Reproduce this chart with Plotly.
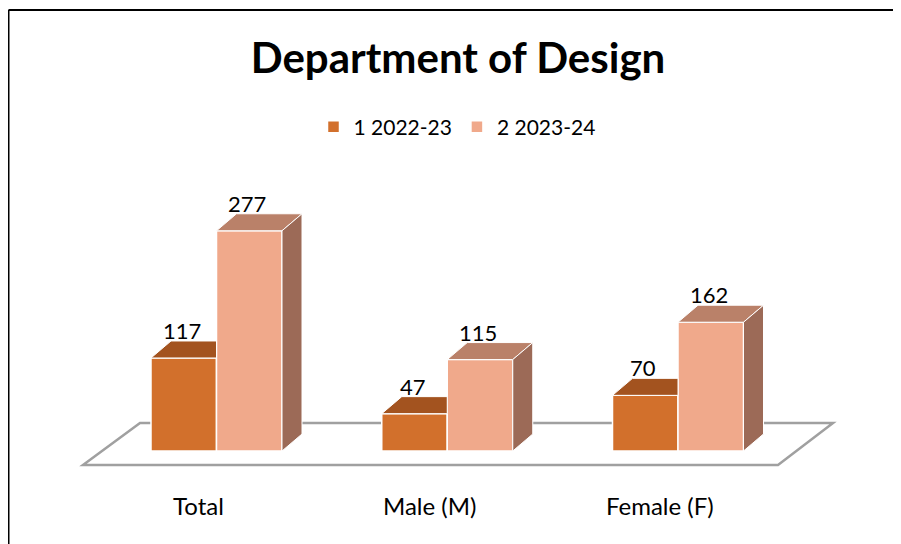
import plotly.graph_objects as go

# ---------------- data ----------------
categories = ["Total", "Male (M)", "Female (F)"]
series_names = ["1 2022-23", "2 2023-24"]
values_2022_23 = [117, 47, 70]
values_2023_24 = [277, 115, 162]

# ---------------- style / geometry ----------------
FRONT = ["#D2702C", "#F0A98B"]
TOP = ["#A3531F", "#BA8169"]
SIDE = ["#8E4A1C", "#9C6A57"]
FONT = "Lato"

PAGE_W, PAGE_H = 901, 544
OFF = 8                    # default body margin of the html page
W, H = PAGE_W - OFF, PAGE_H - OFF
UNIT_PX = 230.75           # pixels per category
FIRST_CX = 216.5           # page pixel centre of first category
BASE_PX = 451.0            # page pixel of value 0
PX_PER_VAL = 0.795         # pixels per value unit

X0 = (OFF - FIRST_CX) / UNIT_PX
X1 = X0 + W / UNIT_PX
Y1 = (BASE_PX - OFF) / PX_PER_VAL
Y0 = (BASE_PX - PAGE_H) / PX_PER_VAL

GROUP_W = 131 / UNIT_PX
BARGAP = 1 - GROUP_W
BAR_W = GROUP_W / 2
DX = 20 / UNIT_PX
DY = 17 / PX_PER_VAL


def px_x(p):
    return (p - FIRST_CX) / UNIT_PX


def px_y(p):
    return (BASE_PX - p) / PX_PER_VAL


def paper_x(p):
    return (p - OFF) / W


def paper_y(p):
    return 1 - (p - OFF) / H


series = [values_2022_23, values_2023_24]

fig = go.Figure()

# front faces (real bars)
for s, vals in enumerate(series):
    fig.add_trace(go.Bar(
        x=list(range(len(categories))), y=vals, name=series_names[s],
        marker=dict(color=FRONT[s], line=dict(color="white", width=1.5)),
        hoverinfo="skip",
    ))

# top and side faces, computed from the same values
for s, vals in enumerate(series):
    for i, v in enumerate(vals):
        xl = i - GROUP_W / 2 + s * BAR_W
        xr = xl + BAR_W
        hidden = s + 1 < len(series) and series[s + 1][i] >= v
        xr_back = xr if hidden else xr + DX
        fig.add_trace(go.Scatter(
            x=[xl, xl + DX, xr_back, xr, xl], y=[v, v + DY, v + DY, v, v],
            mode="lines", fill="toself", fillcolor=TOP[s],
            line=dict(color="white", width=1), showlegend=False, hoverinfo="skip"))
        if not hidden:
            fig.add_trace(go.Scatter(
                x=[xr, xr, xr + DX, xr + DX, xr], y=[0, v, v + DY, DY, 0],
                mode="lines", fill="toself", fillcolor=SIDE[s],
                line=dict(color="white", width=1), showlegend=False, hoverinfo="skip"))
        fig.add_annotation(x=(xl + xr) / 2 - 0.008, y=v + DY, text=str(v), showarrow=False,
                           yanchor="bottom", yshift=-5,
                           font=dict(family=FONT, size=22, color="black"))

# category labels
for i, c in enumerate(categories):
    fig.add_annotation(x=i - 0.076, y=px_y(505), text=c, showarrow=False,
                       yanchor="middle", font=dict(family=FONT, size=24, color="black"))

# floor
fl, fr = px_x(83), px_x(778)
bl, br = px_x(140), px_x(833)
fy, by = px_y(465), px_y(423)
floor_path = f"M{fl},{fy} L{fr},{fy} L{br},{by} L{bl},{by} Z"
fig.add_shape(type="path", path=floor_path, xref="x", yref="y", layer="below",
              fillcolor="white", line=dict(color="#A0A0A0", width=2.5))

# chart border (top and left edges visible)
fig.add_shape(type="line", xref="paper", yref="paper", x0=paper_x(8.5), x1=1.0,
              y0=paper_y(10), y1=paper_y(10), line=dict(color="black", width=2))
fig.add_shape(type="line", xref="paper", yref="paper", x0=paper_x(8.5), x1=paper_x(8.5),
              y0=0, y1=paper_y(10), line=dict(color="black", width=2))

fig.update_layout(
    width=W, height=H, autosize=False,
    margin=dict(l=0, r=0, t=0, b=0),
    paper_bgcolor="white", plot_bgcolor="white",
    barmode="group", bargap=BARGAP, bargroupgap=0,
    title=dict(text="<b>Department of Design</b>", x=paper_x(458), xanchor="center",
               y=paper_y(58), yanchor="middle", xref="paper", yref="paper",
               font=dict(family=FONT, size=42, color="black")),
    legend=dict(orientation="h", x=paper_x(457), xanchor="center", y=paper_y(127),
                yanchor="middle", font=dict(family=FONT, size=21, color="black"),
                bgcolor="rgba(0,0,0,0)"),
    xaxis=dict(range=[X0, X1], visible=False, fixedrange=True),
    yaxis=dict(range=[Y0, Y1], visible=False, fixedrange=True),
    showlegend=True,
)

fig.write_html("out.html")
